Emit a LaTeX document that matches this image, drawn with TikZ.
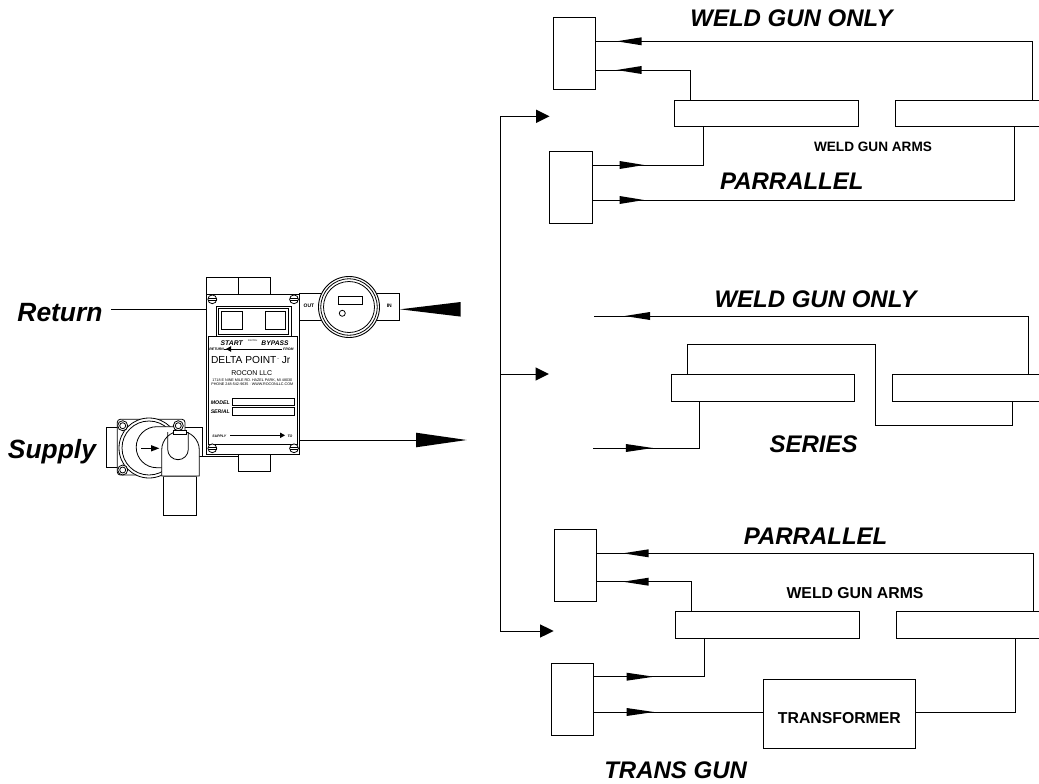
\documentclass[tikz,border=0pt]{standalone}
\usepackage{fontspec}
\setmainfont{Liberation Sans}
\newcommand{\fsz}[1]{\fontsize{#1}{#1}\selectfont}
\newcommand{\rbox}[5]{% name x1 y1 x2 y2
  \pgfmathsetmacro{\rbw}{#4-#2}\pgfmathsetmacro{\rbh}{#5-#3}
  \node[plainbox,anchor=north west,minimum width=\rbw pt,minimum height=\rbh pt] (#1) at (#2,#3) {};}
\newcommand{\tri}[4]{% tip x, base x, y, half height
  \fill (#1,#3) -- (#2,#3-#4) -- (#2,#3+#4) -- cycle;}
\newcommand{\screw}[2]{%
  \draw[thinline,fill=white] (#1,#2) circle[radius=4.4];
  \draw[thinline] (#1-4.2,#2-1) -- (#1+4.2,#2-1) (#1-4.2,#2+1) -- (#1+4.2,#2+1);}
\tikzset{
  plainbox/.style={draw=black,line width=0.9pt,fill=white,inner sep=0pt,outer sep=0pt},
  wire/.style={draw=black,line width=0.9pt,line join=miter},
  thinline/.style={draw=black,line width=0.8pt},
  bigt/.style={font=\fsz{24}\bfseries\itshape,inner sep=0pt},
  armt/.style={font=\fsz{#1}\bfseries,inner sep=0pt},
  tinyt/.style={font=\fsz{#1},inner sep=0pt},
  tinyb/.style={font=\fsz{#1}\bfseries\itshape,inner sep=0pt},
}
\begin{document}
\begin{tikzpicture}[x=1pt,y=-1pt]
\path[use as bounding box,clip] (0,0) rectangle (1039,784);
\fill[white] (0,0) rectangle (1039,784);

% ---------- top group
\rbox{gunA}{553.7}{17.3}{595.4}{89.7}
\rbox{armAL}{674.9}{100}{858}{126.7}
\rbox{armAR}{895.8}{100}{1046}{126.7}
\rbox{gunB}{549.9}{151.3}{592.2}{223.3}
\draw[wire] (gunA.east |- 0,41.3) -| (1032,100);
\draw[wire] (gunA.east |- 0,70) -| (690.3,100);
\draw[wire] (gunB.east |- 0,165) -| (703.2,126.7);
\draw[wire] (gunB.east |- 0,200) -| (1014.5,126.7);
\tri{616.7}{641.6}{41.3}{4}
\tri{616.7}{641.6}{70}{4}
\tri{644}{619.6}{165}{4}
\tri{644}{619.6}{200}{4}
\node[bigt] (t1) at (791.5,18.5) {WELD GUN ONLY};
\node[armt=13.6] (t2) at (873,146.7) {WELD GUN ARMS};
\node[bigt] (t3) at (791.8,181.7) {PARRALLEL};

% ---------- middle group
\coordinate (freeC) at (594.3,316);
\coordinate (freeD) at (593,448);
\rbox{armCL}{671.4}{374.3}{854.9}{401.3}
\rbox{armCR}{892.3}{374.3}{1046}{401.3}
\draw[wire] (freeC) -| (1028.5,374.3);
\draw[wire] (freeD) -| (699.4,401.3);
\draw[wire] (687.1,374.3) |- (875.2,344) |- (1012,425) -- (1012,401.3);
\tri{624.8}{650}{316}{4}
\tri{652.8}{625.9}{448}{4}
\node[bigt] (t4) at (815.6,299.5) {WELD GUN ONLY};
\node[bigt] (t5) at (813.6,444) {SERIES};

% ---------- bottom group
\rbox{gunE}{554.4}{529.3}{596.8}{601.3}
\rbox{armEL}{675.9}{611.7}{859.4}{638.3}
\rbox{armER}{896.9}{611.7}{1046}{638.3}
\rbox{gunF}{551.3}{663.7}{593.6}{735.7}
\node[plainbox,anchor=north west,minimum width=152pt,minimum height=69.3pt] (trafo) at (763.8,679) {};
\node[armt=15.8] (t8) at (839.4,718.3) {TRANSFORMER};
\draw[wire] (gunE.east |- 0,553.3) -| (1033.4,611.7);
\draw[wire] (gunE.east |- 0,581.7) -| (691.7,611.7);
\draw[wire] (gunF.east |- 0,676.7) -| (704.3,638.3);
\draw[wire] (gunF.east |- 0,712) -- (trafo.west |- 0,712);
\draw[wire] (trafo.east |- 0,712) -| (1015.6,638.3);
\tri{623}{648.6}{553.3}{4}
\tri{623}{648.6}{581.7}{4}
\tri{653.9}{626.6}{676.7}{4}
\tri{653.9}{626.6}{712}{4}
\node[bigt] (t6) at (815.6,536.7) {PARRALLEL};
\node[armt=15.8] (t7) at (855,593.3) {WELD GUN ARMS};
\node[bigt] (t9) at (675.6,770) {TRANS GUN};

% ---------- bus
\coordinate (busA) at (536,116.3);
\coordinate (busB) at (536,374);
\coordinate (busC) at (540,631);
\draw[wire] (busA) -| (500.5,631) -- (busC);
\draw[wire] (500.5,374) -- (busB);
\tri{549.5}{536}{116.3}{6.7}
\tri{548.8}{535.5}{374}{6.7}
\tri{553.7}{540}{631}{6.7}

% ---------- labels left
\node[font=\fsz{26.4}\bfseries\itshape,inner sep=0pt] (ret) at (60,313) {Return};
\node[font=\fsz{26.4}\bfseries\itshape,inner sep=0pt] (sup) at (52,452) {Supply};

% ---------- valve
\draw[thinline,fill=white] (106.7,427.7) rectangle (130,467.7);
\draw[thinline,fill=white] (175,427.7) rectangle (202.3,456.7);
\draw[thinline,fill=white,rounded corners=3pt] (117.3,419.3) rectangle (185,475);
\draw[thinline,fill=white] (149,448) circle[radius=30];
\draw[thinline] (149,448) circle[radius=27];
\draw[thinline,fill=white] (180,426.7) -- (156.7,426.7) arc[start angle=270,end angle=90,radius=20.5] -- (180,467.7);
\foreach \sx/\sy in {122.7/425.7,178.3/425.7,122.7/470}{
  \draw[thinline,fill=white] (\sx,\sy) circle[radius=5];
  \draw[thinline] (\sx,\sy) circle[radius=3];
}
\draw[thinline] (141,448.3) -- (152,448.3);
\tri{159.3}{151}{448.3}{3.2}
\draw[thinline,fill=white] (163.3,476) rectangle (196.7,515);
\draw[thinline,fill=white] (161.7,450) -- (161.7,476) -- (199.3,476) -- (199.3,450)
   arc[start angle=0,end angle=-180,radius=18.8] -- cycle;
\draw[black!70,line width=1.6pt] (163.3,476.4) -- (196.7,476.4);
\draw[thinline] (167.7,432) -- (167.7,449.4) arc[start angle=180,end angle=0,radius=10.3] -- (188.3,432);
\draw[thinline,fill=white] (173.3,430) rectangle (186.7,434);

% ---------- meter
\rbox{outB}{299}{293.3}{322}{320.7}
\rbox{inB}{376}{293.3}{399}{320.7}
\node[tinyb=5,font=\fsz{5}\bfseries] (outT) at (309,306) {OUT};
\node[tinyb=5,font=\fsz{5}\bfseries] (inT) at (389.3,306) {IN};
\node[circle,draw=black,line width=0.9pt,fill=white,minimum size=61pt,inner sep=0pt] (meter) at (349,307) {};
\draw[thinline] (349,307) circle[radius=28.2];
\draw[thinline] (349,307) circle[radius=25.5];
\draw[thinline] (338,296) rectangle (362.7,304.7);
\draw[thinline] (342.3,313.3) circle[radius=3];

% ---------- main body
\rbox{topBlk}{206.7}{277.7}{270.3}{300}
\draw[thinline] (238,277.7) -- (238,300);
\rbox{botBlk}{238}{450}{270.3}{471.3}
\rbox{body}{206.7}{294.3}{299}{454}
\draw[thinline] (202.3,456.7) -- (238,456.7);
\rbox{plate}{208}{336}{297}{444}
\draw[thinline] (216.3,306) rectangle (291,336);
\draw[thinline] (218.7,308.7) rectangle (288,334);
\rbox{btnA}{221.3}{311}{242.7}{329.3}
\rbox{btnB}{265}{311}{285}{329.3}
\screw{212.3}{299.3}
\screw{294}{299.3}
\screw{212.3}{448.3}
\screw{294}{448.3}
\node[tinyb=6.8] (start) at (231.7,342.7) {START};
\node[tinyt=2.4] (swt) at (252.7,340.3) {SWITCH};
\node[tinyb=6.7] (byp) at (275,342.7) {BYPASS};
\node[tinyb=3.5] (retl) at (216.7,349.5) {RETURN};
\node[tinyb=3.5] (froml) at (288.3,349.5) {FROM};
\draw[thinline] (froml.west) ++(-1,-0.4) coordinate (pb) -- (retl.east |- pb);
\tri{226}{231}{349}{2.8}
\node[tinyt=10.2] (dp) at (250.7,360) {DELTA POINT\raisebox{3pt}{\fsz{5}\,-} Jr};
\node[tinyt=7] (roc) at (251.7,373.3) {ROCON LLC};
\node[tinyt=3.7] (ad1) at (252.3,380.7) {1718 E NINE MILE RD. HAZEL PARK, MI 48030};
\node[tinyt=3.7] (ad2) at (252.3,384.5) {PHONE 248-542-9635 · WWW.ROCONLLC.COM};
\node[tinyb=5.2] (mdl) at (220.3,402.3) {MODEL};
\node[tinyb=5.2] (ser) at (220.3,412) {SERIAL};
\rbox{fldA}{232.7}{398.3}{294.7}{405.7}
\rbox{fldB}{232.7}{407.7}{294.7}{415}
\node[tinyb=3.5] (supl) at (219.3,436.5) {SUPPLY};
\node[tinyb=3.5] (tol) at (290,436.5) {TO};
\draw[thinline] (230,435.3) -- (282,435.3);
\tri{285}{280}{435.3}{2.8}

% ---------- trunk connectors
\coordinate (retEnd) at (111,309);
\draw[wire] (retEnd) -- (body.west |- 0,309);
\coordinate (inTip) at (400,309.3);
\draw[wire] (inB.east |- 0,309.3) -- (inTip);
\fill (400,309.3) -- (460.7,302) -- (460.7,316.6) -- cycle;
\coordinate (supBase) at (416,440);
\draw[wire] (body.east |- 0,440) -- (supBase);
\fill (466.7,440) -- (416,432.7) -- (416,447.3) -- cycle;
\end{tikzpicture}
\end{document}
